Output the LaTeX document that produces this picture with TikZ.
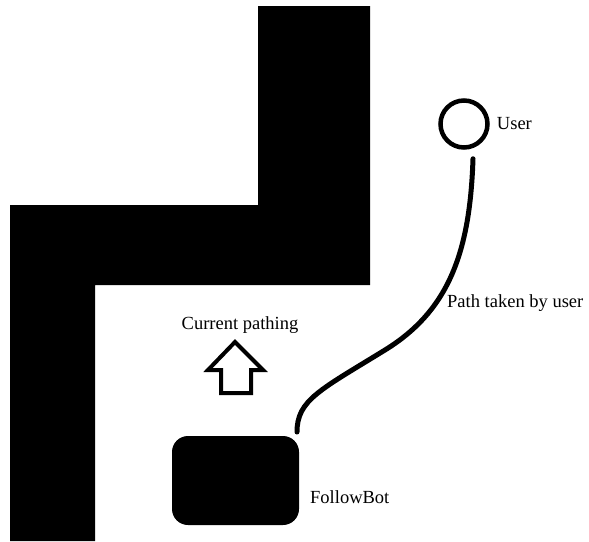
\documentclass[tikz,border=0pt]{standalone}
\usepackage{fontspec}
\setmainfont{Liberation Serif}
\usetikzlibrary{positioning}
\tikzset{
	wall/.style={fill=black,draw=none},
	usercircle/.style={circle,draw,line width=4.5pt,minimum size=47pt,inner sep=0pt},
	robot/.style={rectangle,fill=black,rounded corners=16pt,minimum width=127pt,minimum height=89pt,inner sep=0pt},
	tag/.style={font=\fontsize{18.5}{21}\selectfont,inner sep=0pt},
	userpath/.style={line width=5pt,line cap=round}
}
\begin{document}
\begin{tikzpicture}[x=1pt,y=-1pt]
			\useasboundingbox (0,0) rectangle (589,541);
			\fill[wall] (258,6) -- (370,6) -- (370,285) -- (95,285) -- (95,541) -- (10,541) -- (10,205) -- (258,205) -- cycle;
			\node[usercircle] (user) at (464,124) {};
			\node[tag,right=7pt of user] (usertext) {User};
			\node[robot] (bot) at (235.5,480.5) {};
			\node[tag,anchor=west] (bottext) at (310,497) {FollowBot};
			\coordinate (pathstart) at ([yshift=-9]user.south);
			\coordinate (pathend) at (297,432);
			\draw[userpath] ([xshift=9]pathstart) .. controls (470,250) and (450,310) .. (385,350) .. controls (320,390) and (297,400) .. (pathend);
			\node[tag,anchor=west] (pathtext) at (447,303) {Path taken by user};
			\node[tag] (pathing) at (240,325) {Current pathing};
			\draw[line width=4pt] (235,342) -- (263,370) -- (251,370) -- (251,393) -- (221,393) -- (221,370) -- (208,370) -- cycle;
\end{tikzpicture}
\end{document}
